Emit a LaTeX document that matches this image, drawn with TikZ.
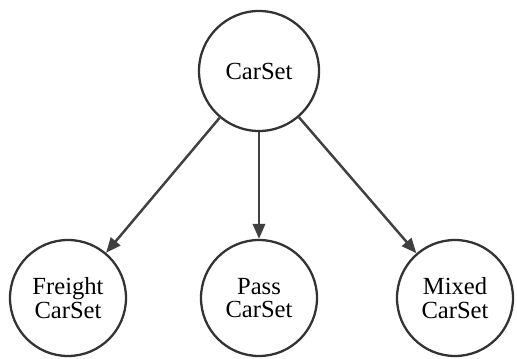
\documentclass[tikz,border=0pt]{standalone}
\usepackage{fontspec}
\setmainfont{Liberation Serif}
\usetikzlibrary{arrows.meta}

\begin{document}
\begin{tikzpicture}[line width=1.3pt, draw=black!80,
    setnode/.style={circle, draw=black!80, inner sep=0pt, align=center,
      font=\fontsize{14}{13.5}\selectfont},
    subset/.style={-{Triangle[length=8.5pt,width=7pt]}, draw=black!75, line width=1.4pt}]
    \useasboundingbox (0,0) rectangle (10.34,7.16);
    \node[setnode, minimum size=2.4cm] (carset) at (5.18,5.74) {CarSet};
    \node[setnode, minimum size=2.32cm] (freight) at (1.36,1.2) {Freight\\CarSet};
    \node[setnode, minimum size=2.32cm] (pass) at (5.18,1.2) {Pass\\CarSet};
    \node[setnode, minimum size=2.32cm] (mixed) at (9.1,1.2) {Mixed\\CarSet};
    \draw[subset] (carset) -- (freight);
    \draw[subset] (carset) -- (pass);
    \draw[subset] (carset) -- (mixed);
  \end{tikzpicture}
\end{document}
